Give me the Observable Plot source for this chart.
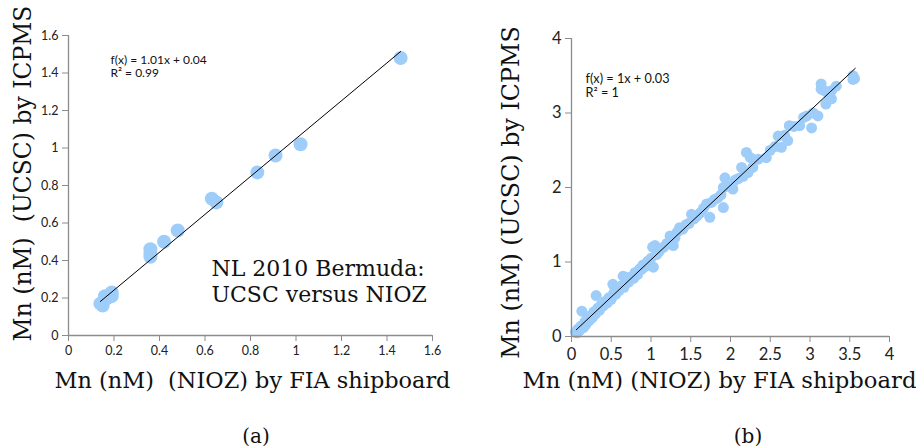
<!DOCTYPE html>
<html>
<head>
<meta charset="utf-8">
<script src="https://cdn.jsdelivr.net/npm/d3@7"></script>
<script src="https://cdn.jsdelivr.net/npm/@observablehq/plot@0.6"></script>
<style>
  html, body { margin: 0; padding: 0; background: #fff; }
  #wrap { position: relative; width: 916px; height: 448px; overflow: hidden; }
  .panel { position: absolute; top: 0; }
  .cap { position: absolute; top: 424px; font-family: "DejaVu Serif", serif; font-size: 20px; line-height: 24px; color: #111; transform: translateX(-50%); }
</style>
</head>
<body>
<div id="wrap">
  <div class="panel" id="pa" style="left:0px"></div>
  <div class="panel" id="pb" style="left:458px"></div>
  <div class="cap" style="left:256px">(a)</div>
  <div class="cap" style="left:748px">(b)</div>
</div>
<script>
// ---------- Panel (a) data ----------
const aX = [0.15, 0.14, 0.16, 0.19, 0.19, 0.17, 0.36, 0.36, 0.36, 0.42, 0.48, 0.63, 0.65, 0.83, 0.91, 1.02, 1.46];
const aY = [0.16, 0.17, 0.21, 0.23, 0.21, 0.20, 0.46, 0.42, 0.44, 0.50, 0.56, 0.73, 0.71, 0.87, 0.96, 1.02, 1.48];
const aFitX = [0.14, 1.46];
const aSlope = 1.01, aIntercept = 0.04;
const aTicks = [0, 0.2, 0.4, 0.6, 0.8, 1, 1.2, 1.4, 1.6];

// ---------- Panel (b) data ----------
const bX = [0.05,0.07,0.08,0.10,0.12,0.13,0.15,0.17,0.18,0.20,0.22,0.24,0.26,0.28,0.30,0.31,0.33,0.35,0.37,0.40,
  0.42,0.45,0.47,0.50,0.52,0.53,0.56,0.58,0.60,0.63,0.65,0.66,0.68,0.70,0.72,0.75,0.78,0.80,0.83,0.86,
  0.88,0.90,0.93,0.96,0.98,1.00,1.02,1.03,1.05,1.07,1.10,1.13,1.16,1.20,1.24,1.28,1.30,1.33,1.36,1.40,
  1.44,1.48,1.51,1.54,1.58,1.62,1.66,1.70,1.74,1.76,1.80,1.84,1.88,1.91,1.91,1.93,1.96,2.03,2.06,2.10,
  2.14,2.16,2.20,2.22,2.25,2.28,2.35,2.45,2.50,2.56,2.60,2.64,2.68,2.72,2.74,2.80,2.87,2.92,2.96,3.02,
  3.04,3.10,3.14,3.14,3.18,3.20,3.24,3.27,3.27,3.33,3.54,3.54,3.56];
const bY = [0.06,0.05,0.10,0.08,0.14,0.34,0.12,0.20,0.16,0.24,0.21,0.28,0.25,0.33,0.30,0.55,0.38,0.35,0.42,0.41,
  0.47,0.45,0.52,0.50,0.70,0.58,0.57,0.63,0.62,0.68,0.81,0.66,0.74,0.79,0.73,0.80,0.78,0.86,0.83,0.91,
  0.90,0.96,0.94,1.01,0.99,1.05,1.20,0.93,1.22,1.10,1.14,1.18,1.20,1.25,1.35,1.22,1.32,1.40,1.46,1.44,
  1.50,1.52,1.64,1.58,1.62,1.66,1.72,1.78,1.60,1.80,1.84,1.86,1.90,1.73,2.00,2.13,2.02,1.98,2.10,2.12,
  2.27,2.15,2.47,2.20,2.40,2.27,2.38,2.40,2.50,2.55,2.69,2.54,2.70,2.63,2.83,2.82,2.83,2.94,2.96,2.80,
  3.00,2.96,3.39,3.32,3.30,3.12,3.22,3.19,3.30,3.36,3.45,3.50,3.46];
const bFitX = [0.06, 3.57];
const bSlope = 1, bIntercept = 0.03;
const bXTicks = [0, 0.5, 1, 1.5, 2, 2.5, 3, 3.5, 4];
const bYTicks = [0, 1, 2, 3, 4];

const dotColor = "#9fcdfa";
const axisColor = "#8c8c8c";
const serif = "DejaVu Serif";
const sans = "Lato";
const fmt = d => String(Math.round(d * 10) / 10);

function panel(o) {
  const pts = o.xs.map((x, i) => ({x, y: o.ys[i]}));
  const fit = o.fitX.map(x => ({x, y: o.slope * x + o.intercept}));
  return Plot.plot({
    width: 458, height: 400,
    marginLeft: o.ml, marginRight: o.mr, marginTop: o.mt, marginBottom: o.mb,
    style: {background: "transparent", overflow: "visible"},
    x: {domain: o.domain, ticks: o.xTicks},
    y: {domain: o.domain, ticks: o.yTicks},
    marks: [
      Plot.dot(pts, {x: "x", y: "y", r: o.r, fill: dotColor, stroke: "none"}),
      Plot.line(fit, {x: "x", y: "y", stroke: "#000", strokeWidth: 1}),
      Plot.ruleX([o.domain[0]], {stroke: axisColor, strokeWidth: 1.3}),
      Plot.ruleY([o.domain[0]], {stroke: axisColor, strokeWidth: 1.3}),
      Plot.axisX({ticks: o.xTicks, tickFormat: fmt, tickSize: 6, tickPadding: o.xPad, stroke: axisColor, fill: "#222",
        fontSize: o.tickFont, fontFamily: sans, label: null}),
      Plot.axisY({ticks: o.yTicks, tickFormat: fmt, tickSize: 6, tickPadding: o.yPad, stroke: axisColor, fill: "#222",
        fontSize: o.tickFont, fontFamily: sans, label: null}),
      Plot.text([o.xLabel], {frameAnchor: "bottom", dy: o.xLabelDy, dx: o.xLabelDx, fontSize: o.xLabelFont, fontFamily: serif, fill: "#111", textAnchor: "middle", lineAnchor: "middle"}),
      Plot.text([o.yLabel], {frameAnchor: "left", dx: o.yLabelDx, dy: o.yLabelDy, rotate: -90, fontSize: o.yLabelFont, fontFamily: serif, fill: "#111", textAnchor: "middle", lineAnchor: "middle"}),
      Plot.text([o.eq], {frameAnchor: "top-left", dx: o.eqDx, dy: o.eqDy, fontSize: o.eqFont, fontFamily: sans, fill: "#111", lineHeight: o.eqLH, textAnchor: "start", lineAnchor: "top"}),
      ...(o.note ? [Plot.text([o.note], {frameAnchor: "top-left", dx: o.noteDx, dy: o.noteDy, fontSize: o.noteFont, fontFamily: serif, fill: "#111", textAnchor: "start", lineAnchor: "top", lineHeight: 1.18})] : [])
    ]
  });
}

document.getElementById("pa").append(panel({
  xs: aX, ys: aY, fitX: aFitX, slope: aSlope, intercept: aIntercept,
  domain: [0, 1.6], xTicks: aTicks, yTicks: aTicks,
  ml: 68, mr: 26, mt: 35, mb: 65, r: 7, tickFont: 12.5, xPad: 5, yPad: 4,
  xLabel: "Mn (nM)  (NIOZ) by FIA shipboard", xLabelDx: 2, xLabelDy: 45, xLabelFont: 22.4,
  yLabel: "Mn (nM)  (UCSC) by ICPMS", yLabelDx: -45, yLabelDy: -12, yLabelFont: 23.5,
  eq: "f(x) = 1.01x + 0.04\nR² = 0.99", eqDx: 42, eqDy: 19, eqFont: 12, eqLH: 1.12,
  note: "NL 2010 Bermuda:\nUCSC versus NIOZ", noteDx: 143, noteDy: 222, noteFont: 22
}));

document.getElementById("pb").append(panel({
  xs: bX, ys: bY, fitX: bFitX, slope: bSlope, intercept: bIntercept,
  domain: [0, 4], xTicks: bXTicks, yTicks: bYTicks,
  ml: 113, mr: 27, mt: 38, mb: 64, r: 5.5, tickFont: 16.5, xPad: 6, yPad: 4,
  xLabel: "Mn (nM) (NIOZ) by FIA shipboard", xLabelDx: -11, xLabelDy: 44, xLabelFont: 22.7,
  yLabel: "Mn (nM) (UCSC) by ICPMS", yLabelDx: -60, yLabelDy: 5, yLabelFont: 23.8,
  eq: "f(x) = 1x + 0.03\nR² = 1", eqDx: 14, eqDy: 34, eqFont: 12.7, eqLH: 1.15
}));
</script>
</body>
</html>
